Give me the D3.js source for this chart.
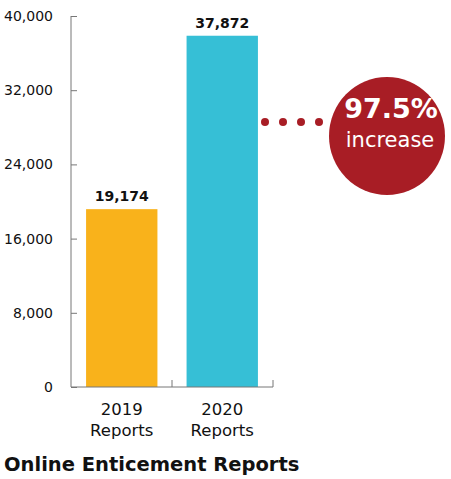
<!DOCTYPE html>
<html>
<head>
<meta charset="utf-8">
<script src="https://cdn.jsdelivr.net/npm/d3@7"></script>
<style>
  body { margin: 0; background: #fff; }
  svg { font-family: "DejaVu Sans", sans-serif; }
</style>
</head>
<body>
<div id="chart"></div>
<script>
var w = 451,
    h = 479;

// data
var categories = ['2019', '2020'],
    values = [19174, 37872],
    barColors = ['#f9b21b', '#36bfd6'],
    yTicks = [0, 8000, 16000, 24000, 32000, 40000],
    increase = '97.5%';

var svg = d3.select('#chart').append('svg')
    .attr('width', w)
    .attr('height', h);

var y = d3.scaleLinear().domain([0, 40000]).range([387, 16]);
var x = d3.scaleBand().domain(categories).range([71, 273]).paddingInner(0.29).paddingOuter(0.15);

// y axis
var yAxis = svg.append('g')
    .attr('transform', 'translate(71,0)')
    .call(d3.axisLeft(y).tickValues(yTicks).tickSize(-6).tickPadding(18)
      .tickFormat(d3.format(',')));
yAxis.select('.domain').remove();
yAxis.selectAll('line').attr('stroke', '#777');
yAxis.selectAll('text').attr('font-size', 14).attr('fill', '#111')
    .attr('font-family', '"DejaVu Sans", sans-serif');
svg.append('line')
    .attr('x1', 71).attr('x2', 71)
    .attr('y1', y(40000)).attr('y2', y(0))
    .attr('stroke', '#777');

// bars
svg.selectAll('rect.bar')
    .data(values)
  .enter().append('rect')
    .attr('class', 'bar')
    .attr('x', function(d, i){ return x(categories[i]); })
    .attr('y', function(d){ return y(d); })
    .attr('width', x.bandwidth())
    .attr('height', function(d){ return y(0) - y(d); })
    .attr('fill', function(d, i){ return barColors[i]; });

// value labels
svg.selectAll('text.val')
    .data(values)
  .enter().append('text')
    .attr('class', 'val')
    .attr('x', function(d, i){ return x(categories[i]) + x.bandwidth() / 2; })
    .attr('y', function(d){ return y(d) - 8; })
    .attr('text-anchor', 'middle')
    .attr('font-size', 14)
    .attr('font-weight', 'bold')
    .attr('fill', '#111')
    .text(d3.format(','));

// x axis baseline + ticks
svg.append('line')
    .attr('x1', 71).attr('x2', 273)
    .attr('y1', y(0)).attr('y2', y(0))
    .attr('stroke', '#777');
svg.selectAll('line.xt')
    .data([172, 273])
  .enter().append('line')
    .attr('class', 'xt')
    .attr('x1', function(d){ return d; }).attr('x2', function(d){ return d; })
    .attr('y1', y(0)).attr('y2', y(0) - 7)
    .attr('stroke', '#777');

// category labels, two lines each
svg.selectAll('text.cat')
    .data(categories)
  .enter().append('text')
    .attr('class', 'cat')
    .attr('x', function(d){ return x(d) + x.bandwidth() / 2; })
    .attr('y', 415)
    .attr('text-anchor', 'middle')
    .attr('font-size', 16.5)
    .attr('fill', '#111')
    .text(function(d){ return d; });
svg.selectAll('text.rep')
    .data(categories)
  .enter().append('text')
    .attr('class', 'rep')
    .attr('x', function(d){ return x(d) + x.bandwidth() / 2; })
    .attr('y', 436)
    .attr('text-anchor', 'middle')
    .attr('font-size', 16.5)
    .attr('fill', '#111')
    .text('Reports');

// title
svg.append('text')
    .attr('x', 4)
    .attr('y', 471)
    .attr('font-size', 19.5)
    .attr('font-weight', 'bold')
    .attr('fill', '#111')
    .text('Online Enticement Reports');

// dots and circle
svg.selectAll('circle.dot')
    .data([265, 283, 301, 319])
  .enter().append('circle')
    .attr('class', 'dot')
    .attr('cx', function(d){ return d; })
    .attr('cy', 122)
    .attr('r', 4)
    .attr('fill', '#a81d25');

svg.append('ellipse')
    .attr('cx', 387).attr('cy', 136)
    .attr('rx', 58).attr('ry', 59)
    .attr('fill', '#a81d25');

svg.append('text')
    .attr('x', 391).attr('y', 118)
    .attr('text-anchor', 'middle')
    .attr('font-size', 27)
    .attr('font-weight', 'bold')
    .attr('fill', '#fff')
    .text(increase);
svg.append('text')
    .attr('x', 390).attr('y', 147)
    .attr('text-anchor', 'middle')
    .attr('font-size', 21)
    .attr('fill', '#fff')
    .text('increase');
</script>
</body>
</html>
